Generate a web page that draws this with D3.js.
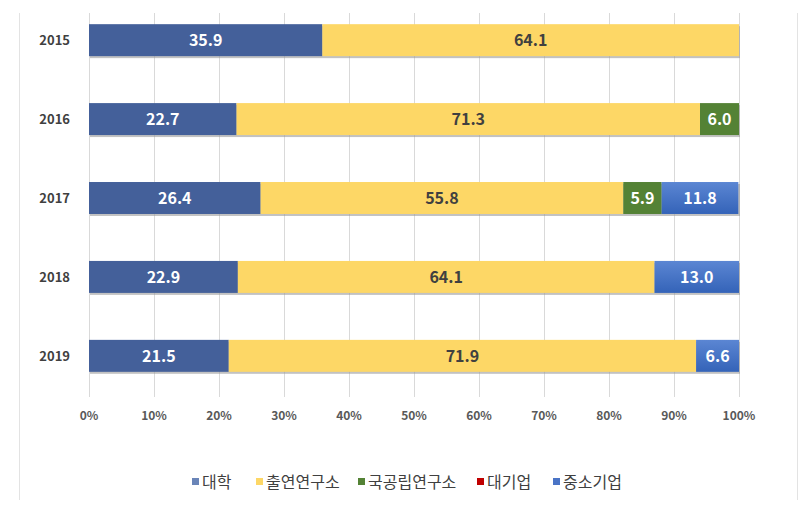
<!DOCTYPE html>
<html>
<head>
<meta charset="utf-8">
<script src="https://cdn.jsdelivr.net/npm/d3@7"></script>
<style>
  body { margin: 0; background: #fff; }
  text { font-family: "Noto Sans CJK KR", "Noto Sans", sans-serif; }
</style>
</head>
<body>
<div id="chart"></div>
<script>
// data
const years = ["2015", "2016", "2017", "2018", "2019"]
const seriesNames = ["대학", "출연연구소", "국공립연구소", "대기업", "중소기업"]
const univ = [35.9, 22.7, 26.4, 22.9, 21.5]
const gri = [64.1, 71.3, 55.8, 64.1, 71.9]
const natLab = [0, 6.0, 5.9, 0, 0]
const bigCorp = [0, 0, 0, 0, 0]
const sme = [0, 0, 11.8, 13.0, 6.6]
const xTicks = [0, 10, 20, 30, 40, 50, 60, 70, 80, 90, 100]

const colors = ["#44609a", "#fdd766", "#548235", "#c00000", "#4a74c6"]
const labelColors = ["#fff", "#404040", "#fff", "#fff", "#fff"]

const W = 807, H = 508
const svg = d3.select("#chart").append("svg")
    .attr("width", W).attr("height", H)

// outer frame lines
svg.append("line").attr("x1", 19.5).attr("x2", 19.5).attr("y1", 13).attr("y2", 500)
    .attr("stroke", "#e3e3e3")
svg.append("line").attr("x1", 797.5).attr("x2", 797.5).attr("y1", 13).attr("y2", 500)
    .attr("stroke", "#e3e3e3")

const x = d3.scaleLinear().domain([0, 100]).range([89, 739])
const y = d3.scaleBand().domain(years).range([0.5, 395.5]).paddingInner(0.595).paddingOuter(0.3)

// gridlines
svg.append("g").selectAll("line")
    .data(xTicks)
    .enter().append("line")
    .attr("x1", d => Math.round(x(d)) + 0.5)
    .attr("x2", d => Math.round(x(d)) + 0.5)
    .attr("y1", 13).attr("y2", 397)
    .attr("stroke", "#d9d9d9")

// stack
const rows = years.map((yr, i) => ({
    year: yr, s0: univ[i], s1: gri[i], s2: natLab[i], s3: bigCorp[i], s4: sme[i]
}))
const stack = d3.stack().keys(["s0", "s1", "s2", "s3", "s4"])(rows)

const defs = svg.append("defs")
const grad = defs.append("linearGradient").attr("id", "smeGrad")
    .attr("x1", 0).attr("x2", 0).attr("y1", 0).attr("y2", 1)
grad.append("stop").attr("offset", "0%").attr("stop-color", "#5b86d3")
grad.append("stop").attr("offset", "100%").attr("stop-color", "#3463b8")

// bar shadows
svg.append("g").selectAll("rect")
    .data(rows)
    .enter().append("rect")
    .attr("x", x(0) + 1)
    .attr("y", d => y(d.year) + 2)
    .attr("width", x(100) - x(0))
    .attr("height", y.bandwidth())
    .attr("fill", "#9a9a9a")
    .attr("opacity", 0.6)

stack.forEach((layer, k) => {
    const g = svg.append("g")
    const segs = layer.map((d, i) => ({ y0: d[0], y1: d[1], year: years[i], v: d[1] - d[0] }))
        .filter(d => d.v > 0)
    g.selectAll("rect")
        .data(segs)
        .enter().append("rect")
        .attr("x", d => x(d.y0))
        .attr("y", d => y(d.year))
        .attr("width", d => x(d.y1) - x(d.y0))
        .attr("height", y.bandwidth())
        .attr("fill", k === 4 ? "url(#smeGrad)" : colors[k])
    g.selectAll("text")
        .data(segs)
        .enter().append("text")
        .attr("x", d => (x(d.y0) + x(d.y1)) / 2)
        .attr("y", d => y(d.year) + y.bandwidth() / 2)
        .attr("dy", "0.36em")
        .attr("text-anchor", "middle")
        .attr("font-size", 16)
        .attr("font-weight", "bold")
        .attr("fill", labelColors[k])
        .text(d => d.v.toFixed(1))
})

// year labels
svg.append("g").selectAll("text")
    .data(years)
    .enter().append("text")
    .attr("x", 70)
    .attr("y", d => y(d) + y.bandwidth() / 2)
    .attr("dy", "0.36em")
    .attr("text-anchor", "end")
    .attr("font-size", 13)
    .attr("font-weight", "bold")
    .attr("fill", "#404040")
    .text(d => d)

// x axis labels
svg.append("g").selectAll("text")
    .data(xTicks)
    .enter().append("text")
    .attr("x", d => x(d))
    .attr("y", 416)
    .attr("dy", "0.36em")
    .attr("text-anchor", "middle")
    .attr("font-size", 12)
    .attr("font-weight", "bold")
    .attr("fill", "#595959")
    .text(d => d + "%")

// legend
const legendX = [192, 256, 358, 477, 553]
const lg = svg.append("g").selectAll("g")
    .data(seriesNames)
    .enter().append("g")
    .attr("transform", (d, i) => `translate(${legendX[i]},482)`)
lg.append("rect")
    .attr("x", 0).attr("y", -4)
    .attr("width", 7).attr("height", 7)
    .attr("fill", (d, i) => i === 0 ? "#6a85b8" : colors[i])
lg.append("text")
    .attr("x", 10)
    .attr("y", 0)
    .attr("dy", "0.36em")
    .attr("font-size", 16)
    .attr("fill", "#404040")
    .text(d => d)
</script>
</body>
</html>
